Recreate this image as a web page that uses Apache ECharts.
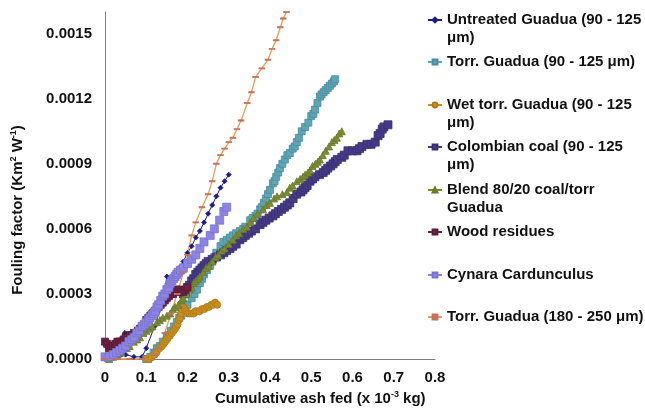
<!DOCTYPE html>
<html>
<head>
<meta charset="utf-8">
<script src="https://cdn.jsdelivr.net/npm/echarts@6/dist/echarts.min.js"></script>
<style>html,body{margin:0;padding:0;background:#fff}#c{width:645px;height:414px}</style>
</head>
<body>
<div id="c"></div>
<script>
// ---- data (x: cumulative ash fed, x10^-3 kg ; y: fouling factor, Km2/W) ----
const seriesNames = [
  'Untreated Guadua (90 - 125 μm)',
  'Torr. Guadua (90 - 125 μm)',
  'Wet torr. Guadua (90 - 125 μm)',
  'Colombian coal (90 - 125 μm)',
  'Blend 80/20 coal/torr Guadua',
  'Wood residues',
  'Cynara Cardunculus',
  'Torr. Guadua (180 - 250 μm)'
];
const legendLines = [
  'Untreated Guadua (90 - 125\nμm)',
  'Torr. Guadua (90 - 125 μm)',
  'Wet torr. Guadua (90 - 125\nμm)',
  'Colombian coal (90 - 125\nμm)',
  'Blend 80/20 coal/torr\nGuadua',
  'Wood residues',
  'Cynara Cardunculus',
  'Torr. Guadua (180 - 250 μm)'
];
const xTicks = [0, 0.1, 0.2, 0.3, 0.4, 0.5, 0.6, 0.7, 0.8];
const yTicks = [0, 0.0003, 0.0006, 0.0009, 0.0012, 0.0015];

const untreated = [[0,0],[0.02,0.00001],[0.04,0.00002],[0.048,0.00012],[0.05,0.00002],[0.07,0.00001],[0.09,0.00001],[0.1,0.00005],[0.12,0.00015],[0.14,0.00026],[0.15,0.00038],[0.155,0.00032],[0.17,0.00037],[0.18,0.00042],[0.19,0.00045],[0.2,0.00049],[0.21,0.00052],[0.22,0.00056],[0.23,0.00059],[0.24,0.00063],[0.25,0.00067],[0.26,0.00071],[0.27,0.00075],[0.28,0.00079],[0.29,0.00082],[0.3,0.00085]];
const torrFine = [[0.1,0],[0.105,0],[0.11,0.00001],[0.118,0.00003],[0.126,0.00005],[0.133,0.00006],[0.14,0.00008],[0.15,0.0001],[0.155,0.00011],[0.16,0.00013],[0.167,0.00015],[0.174,0.00017],[0.18,0.00019],[0.185,0.0002],[0.194,0.00023],[0.2,0.00025],[0.21,0.00028],[0.217,0.0003],[0.223,0.00032],[0.23,0.00035],[0.235,0.00037],[0.24,0.00039],[0.247,0.00041],[0.255,0.00043],[0.26,0.00045],[0.265,0.00047],[0.27,0.00049],[0.28,0.00052],[0.287,0.00054],[0.295,0.00055],[0.303,0.00056],[0.31,0.00057],[0.318,0.00058],[0.327,0.00059],[0.335,0.0006],[0.34,0.00061],[0.352,0.00064],[0.358,0.00065],[0.365,0.00066],[0.37,0.00067],[0.376,0.00069],[0.38,0.0007],[0.385,0.00072],[0.39,0.00074],[0.395,0.00076],[0.4,0.00078],[0.407,0.00081],[0.411,0.00082],[0.415,0.00084],[0.42,0.00086],[0.424,0.00088],[0.43,0.0009],[0.436,0.00092],[0.442,0.00094],[0.448,0.00095],[0.455,0.00097],[0.46,0.00098],[0.465,0.001],[0.47,0.00102],[0.477,0.00105],[0.485,0.00107],[0.493,0.00109],[0.5,0.00112],[0.505,0.00113],[0.509,0.00115],[0.515,0.00118],[0.521,0.00121],[0.525,0.00122],[0.53,0.00123],[0.535,0.00124],[0.54,0.00125],[0.545,0.00126],[0.55,0.00127],[0.555,0.00128],[0.558,0.00129]];
const wetTorr = [[0.1,0],[0.106,0],[0.113,0.00001],[0.12,0.00002],[0.125,0.00003],[0.132,0.00005],[0.138,0.00006],[0.142,0.00007],[0.146,0.00008],[0.15,0.00009],[0.153,0.0001],[0.158,0.00011],[0.162,0.00012],[0.166,0.00013],[0.17,0.00014],[0.173,0.00015],[0.176,0.00016],[0.179,0.00018],[0.182,0.00019],[0.184,0.00021],[0.186,0.00023],[0.19,0.00024],[0.194,0.00023],[0.197,0.00022],[0.201,0.00021],[0.205,0.00021],[0.21,0.00021],[0.215,0.00021],[0.219,0.00022],[0.223,0.00022],[0.229,0.00022],[0.235,0.00023],[0.241,0.00023],[0.247,0.00024],[0.252,0.00024],[0.258,0.00025],[0.263,0.00025],[0.267,0.00026],[0.272,0.00025]];
const coal = [[0.19,0.0003],[0.195,0.00031],[0.2,0.00033],[0.205,0.00034],[0.21,0.00036],[0.215,0.00037],[0.22,0.00039],[0.225,0.0004],[0.23,0.00041],[0.235,0.00042],[0.24,0.00043],[0.245,0.00044],[0.25,0.00045],[0.26,0.00046],[0.27,0.00047],[0.28,0.00048],[0.288,0.00049],[0.295,0.0005],[0.303,0.00051],[0.31,0.00052],[0.318,0.00053],[0.327,0.00055],[0.334,0.00056],[0.34,0.00057],[0.348,0.00058],[0.355,0.00059],[0.365,0.0006],[0.376,0.00062],[0.383,0.00063],[0.39,0.00064],[0.398,0.00065],[0.407,0.00066],[0.413,0.00067],[0.42,0.00068],[0.428,0.00069],[0.435,0.0007],[0.442,0.00071],[0.448,0.00072],[0.456,0.00074],[0.465,0.00076],[0.475,0.00077],[0.48,0.00078],[0.485,0.00079],[0.49,0.0008],[0.497,0.00082],[0.503,0.00083],[0.509,0.00084],[0.52,0.00085],[0.529,0.00086],[0.535,0.00087],[0.54,0.00088],[0.547,0.00089],[0.553,0.0009],[0.558,0.00091],[0.563,0.00092],[0.574,0.00093],[0.58,0.00094],[0.589,0.00096],[0.6,0.00096],[0.611,0.00096],[0.617,0.00097],[0.623,0.00098],[0.635,0.00099],[0.645,0.00099],[0.655,0.001],[0.662,0.00103],[0.667,0.00104],[0.672,0.00106],[0.676,0.00107],[0.686,0.00108]];
const blend = [[0.01,0],[0.02,0.00001],[0.03,0.00002],[0.04,0.00003],[0.053,0.00005],[0.06,0.00006],[0.07,0.00008],[0.078,0.00009],[0.085,0.0001],[0.093,0.00012],[0.1,0.00013],[0.108,0.00014],[0.115,0.00015],[0.126,0.00017],[0.133,0.00018],[0.14,0.00019],[0.15,0.0002],[0.158,0.00021],[0.165,0.00023],[0.17,0.00024],[0.178,0.00025],[0.185,0.00027],[0.19,0.00028],[0.198,0.0003],[0.205,0.00032],[0.21,0.00033],[0.215,0.00035],[0.22,0.00036],[0.225,0.00037],[0.23,0.00038],[0.238,0.0004],[0.245,0.00042],[0.252,0.00043],[0.26,0.00045],[0.268,0.00047],[0.275,0.00048],[0.283,0.0005],[0.29,0.00051],[0.3,0.00053],[0.31,0.00055],[0.318,0.00057],[0.325,0.00058],[0.335,0.0006],[0.344,0.00061],[0.352,0.00063],[0.36,0.00065],[0.37,0.00067],[0.383,0.00069],[0.392,0.00071],[0.4,0.00072],[0.41,0.00074],[0.417,0.00075],[0.43,0.00076],[0.441,0.00077],[0.448,0.00079],[0.455,0.0008],[0.465,0.00082],[0.473,0.00083],[0.48,0.00084],[0.485,0.00085],[0.492,0.00086],[0.497,0.00087],[0.503,0.00089],[0.51,0.0009],[0.516,0.00091],[0.521,0.00092],[0.528,0.00094],[0.535,0.00096],[0.543,0.00098],[0.55,0.001],[0.556,0.00101],[0.562,0.00102],[0.568,0.00104],[0.574,0.00105]];
const wood = [[0,0.00008],[0.005,0.00007],[0.01,0.00005],[0.015,0.00006],[0.02,0.00006],[0.025,0.00007],[0.03,0.00008],[0.035,0.00008],[0.04,0.00008],[0.045,0.00009],[0.05,0.0001],[0.055,0.0001],[0.06,0.00011],[0.065,0.00011],[0.07,0.00012],[0.075,0.00012],[0.08,0.00013],[0.085,0.00014],[0.09,0.00015],[0.095,0.00016],[0.1,0.00018],[0.105,0.00019],[0.11,0.0002],[0.115,0.00021],[0.12,0.00022],[0.125,0.00023],[0.13,0.00024],[0.135,0.00025],[0.14,0.00026],[0.145,0.00027],[0.15,0.00028],[0.155,0.00029],[0.16,0.0003],[0.165,0.0003],[0.17,0.00031],[0.175,0.00032],[0.18,0.00032],[0.185,0.00031],[0.19,0.00031],[0.195,0.00032],[0.2,0.00033]];
const cynara = [[0,0.00001],[0.01,0.00001],[0.02,0.00002],[0.028,0.00003],[0.036,0.00004],[0.043,0.00005],[0.05,0.00006],[0.058,0.00008],[0.065,0.00009],[0.071,0.0001],[0.077,0.00012],[0.084,0.00013],[0.09,0.00015],[0.095,0.00016],[0.1,0.00017],[0.105,0.00018],[0.109,0.00019],[0.114,0.0002],[0.118,0.00021],[0.122,0.00022],[0.126,0.00024],[0.13,0.00025],[0.135,0.00027],[0.14,0.00029],[0.145,0.0003],[0.15,0.00032],[0.155,0.00033],[0.158,0.00035],[0.162,0.00036],[0.166,0.00037],[0.17,0.00038],[0.174,0.00039],[0.177,0.0004],[0.183,0.00041],[0.19,0.00042],[0.2,0.00044],[0.21,0.00046],[0.22,0.00048],[0.23,0.00051],[0.24,0.00054],[0.255,0.00057],[0.265,0.0006],[0.278,0.00064],[0.288,0.00068],[0.295,0.0007]];
const torrCoarse = [[0,0],[0.03,0],[0.06,0],[0.09,0],[0.12,0.00002],[0.13,0.00005],[0.145,0.00012],[0.16,0.00021],[0.175,0.0003],[0.19,0.0004],[0.2,0.00048],[0.21,0.00057],[0.22,0.00063],[0.235,0.0007],[0.25,0.00076],[0.26,0.00082],[0.27,0.0009],[0.28,0.00094],[0.29,0.00097],[0.3,0.001],[0.31,0.00102],[0.32,0.00106],[0.33,0.0011],[0.345,0.00118],[0.355,0.00123],[0.365,0.0013],[0.38,0.00134],[0.395,0.00138],[0.405,0.00143],[0.415,0.00147],[0.425,0.00153],[0.432,0.00157],[0.44,0.0016]];

const allData = [untreated, torrFine, wetTorr, coal, blend, wood, cynara, torrCoarse];
const colors = ['#1e1b8c', '#5ea6b6', '#c98e1f', '#463a86', '#7c8b32', '#6a2343', '#8c84e2', '#e1a052'];
const markerColors = ['#1e1b8c', '#5ea6b6', '#c98e1f', '#463a86', '#7c8b32', '#6a2343', '#8c84e2', '#c8705a'];
const borderColors = ['#1e1b8c', '#4a8b9c', '#b07a15', '#3a3075', '#6a7828', '#5a1a36', '#7a72cf', '#c8705a'];
const symbols = ['diamond', 'rect', 'circle', 'rect', 'triangle', 'rect', 'rect', 'rect'];
const symbolSizes = [5, 7, 7, 8, 7, 7, 8, [5, 1.5]];
const legendCenters = [20, 62, 105, 147, 190, 232, 275, 317];

const FONT = "'Liberation Sans', Arial, Helvetica, sans-serif";

const chart = echarts.init(document.getElementById('c'), null, {renderer: 'canvas'});

const series = seriesNames.map((n, i) => ({
  name: n,
  type: 'line',
  data: allData[i],
  symbol: symbols[i],
  symbolSize: symbolSizes[i],
  showSymbol: true,
  showAllSymbol: true,
  lineStyle: {color: colors[i], width: i === 7 ? 1.3 : 1},
  itemStyle: {color: markerColors[i], borderColor: borderColors[i], borderWidth: 0.8},
  emphasis: {disabled: true},
  animation: false
}));

const legends = seriesNames.map((n, i) => {
  const twoLine = legendLines[i].indexOf('\n') >= 0;
  return {
    data: [n],
    left: 427,
    top: twoLine ? legendCenters[i] - 27 : legendCenters[i] - 9,
    padding: 0,
    itemWidth: 14,
    itemHeight: 6,
    selectedMode: false,
    formatter: () => (twoLine ? ' \n' : '') + legendLines[i],
    textStyle: {
      fontFamily: FONT, fontSize: 15, fontWeight: 'bold', color: '#111',
      lineHeight: 18
    }
  };
});

chart.setOption({
  backgroundColor: '#ffffff',
  animation: false,
  grid: {left: 105, right: 210, top: 12, bottom: 55, containLabel: false},
  xAxis: {
    type: 'value', min: 0, max: 0.8, interval: 0.1,
    axisLine: {show: true, lineStyle: {color: '#7f7f7f', width: 1}},
    axisTick: {show: false},
    splitLine: {show: false},
    axisLabel: {
      margin: 11, fontFamily: FONT, fontSize: 15, fontWeight: 'bold', color: '#111',
      formatter: v => {
        const t = xTicks.find(k => Math.abs(k - v) < 1e-9);
        if (t === undefined) return '';
        return t === 0 ? '0' : t.toFixed(1);
      }
    }
  },
  yAxis: {
    type: 'value', min: 0, max: 0.0016, interval: 0.0003,
    axisLine: {show: true, lineStyle: {color: '#7f7f7f', width: 1}},
    axisTick: {show: false},
    splitLine: {show: false},
    axisLabel: {
      margin: 13, fontFamily: FONT, fontSize: 15, fontWeight: 'bold', color: '#111',
      showMaxLabel: false,
      formatter: v => {
        const t = yTicks.find(k => Math.abs(k - v) < 1e-12);
        return t === undefined ? '' : t.toFixed(4);
      }
    }
  },
  legend: legends,
  graphic: [
    {
      type: 'text', left: 215, top: 390,
      style: {
        text: '{a|Cumulative ash fed (x 10}{s|-3}{a| kg)}',
        rich: {
          a: {fontFamily: FONT, fontSize: 15, fontWeight: 'bold', fill: '#111', lineHeight: 18},
          s: {fontFamily: FONT, fontSize: 9, fontWeight: 'bold', fill: '#111', lineHeight: 18, verticalAlign: 'top', padding: [0, 0, 6, 0]}
        }
      }
    },
    {
      type: 'text', x: 18, y: 210, rotation: Math.PI / 2,
      style: {
        text: '{a|Fouling factor (Km}{s|2}{a| W}{s|-1}{a|)}',
        align: 'center', verticalAlign: 'middle',
        rich: {
          a: {fontFamily: FONT, fontSize: 15, fontWeight: 'bold', fill: '#111', lineHeight: 18},
          s: {fontFamily: FONT, fontSize: 9, fontWeight: 'bold', fill: '#111', lineHeight: 18, verticalAlign: 'top', padding: [0, 0, 6, 0]}
        }
      }
    }
  ],
  series: series
});
</script>
</body>
</html>
